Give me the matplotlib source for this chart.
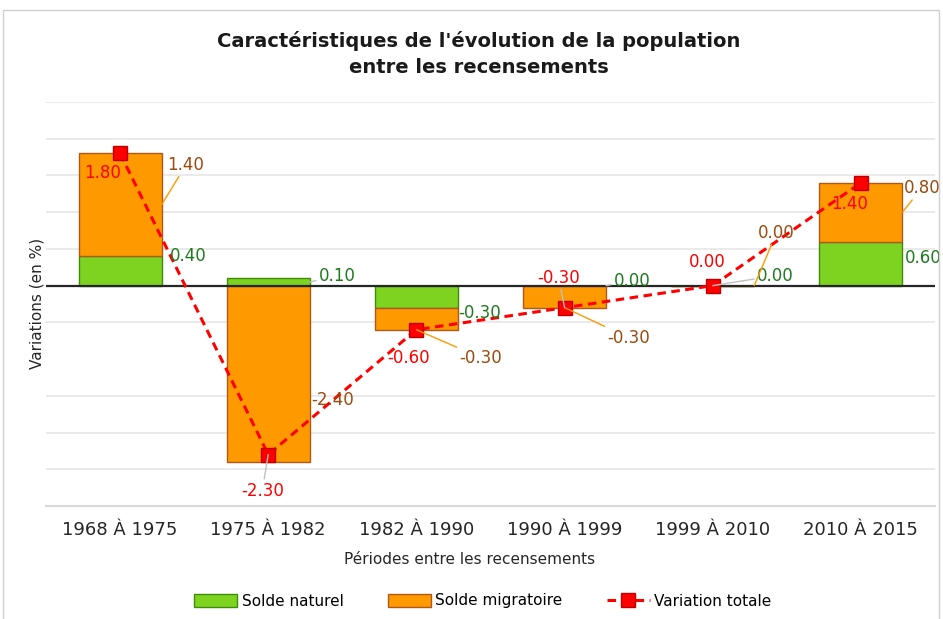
import matplotlib
matplotlib.use('Agg')
import matplotlib.pyplot as plt
from matplotlib.patches import Rectangle, Patch
from matplotlib.lines import Line2D
import numpy as np

# ---- data ----
periods = ['1968 À 1975', '1975 À 1982', '1982 À 1990', '1990 À 1999', '1999 À 2010', '2010 À 2015']
solde_naturel = [0.40, 0.10, -0.30, 0.00, 0.00, 0.60]
solde_migratoire = [1.40, -2.40, -0.30, -0.30, 0.00, 0.80]
variation_totale = [1.80, -2.30, -0.60, -0.30, 0.00, 1.40]

title = "Caractéristiques de l'évolution de la population\nentre les recensements"
xlabel = "Périodes entre les recensements"
ylabel = "Variations (en %)"
legend_labels = ['Solde naturel', 'Solde migratoire', 'Variation totale']

# ---- style ----
GREEN = '#7ED321'
GREEN_EDGE = '#3d8c0a'
ORANGE = '#FF9900'
ORANGE_EDGE = '#b0581a'
RED = '#FF0000'
GREEN_TXT = '#1f7a1f'
BROWN_TXT = '#9c4a0f'
GRAY = '#bfbfbf'

fig = plt.figure(figsize=(9.43, 6.19), dpi=100)
ax = fig.add_axes([46/943, 113/619, 889/943, 404/619])

x = np.arange(len(periods))
w = 0.56
nat = np.array(solde_naturel)
mig = np.array(solde_migratoire)
tot = np.array(variation_totale)
mig_bottom = np.where(np.sign(mig) == np.sign(nat), nat, 0.0)

ax.bar(x, nat, w, color=GREEN, edgecolor=GREEN_EDGE, linewidth=1, zorder=2)
ax.bar(x, mig, w, bottom=mig_bottom, color=ORANGE, edgecolor=ORANGE_EDGE, linewidth=1, zorder=2)
ax.axhline(0, color='#262626', lw=1.6, zorder=3)
ax.plot(x, tot, color=RED, ls=(0, (2.8, 1.8)), lw=2.2, marker='s', ms=10,
        mfc=RED, mec='#c00000', mew=1, zorder=5)

ax.set_xlim(-0.5, len(periods) - 0.5)
ax.set_ylim(-3, 2.5)
ax.set_yticks([-2.5, -2, -1.5, -0.5, 0, 0.5, 1, 1.5, 2, 2.5])
ax.yaxis.grid(True, color='#e6e6e6', lw=1.2, zorder=0)
ax.set_axisbelow(True)
ax.tick_params(axis='y', length=0, labelleft=False)
ax.set_xticks(x)
ax.set_xticklabels(periods, fontsize=13, color='#262626')
ax.tick_params(axis='x', length=0, pad=11)
for s in ['left', 'right', 'top']:
    ax.spines[s].set_visible(False)
ax.spines['bottom'].set_color('#d9d9d9')
ax.spines['bottom'].set_linewidth(1.5)

# ---- data labels ----
def label(xy, txt, off, color, ha='left', leader=None):
    kw = {}
    if leader:
        kw['arrowprops'] = dict(arrowstyle='-', color=leader, lw=1, shrinkA=0, shrinkB=0)
    ax.annotate(txt, xy=xy, xytext=off, textcoords='offset pixels', ha=ha, va='center',
                fontsize=12, color=color, zorder=6, **kw)

# green labels (solde naturel)
g_anchor = [(0 + w/2, 0.2), (1 + w/2, 0.05), (2 + w/2, -0.15), (3 + w/2, 0.0), (4, 0.0), (5 + w/2, 0.3)]
g_off = [(8, 15), (9, 6), (0, -16), (8, 5), (44, 10), (2, 6)]
g_lead = [None, GRAY, None, GRAY, GRAY, None]
for i in range(len(periods)):
    label(g_anchor[i], f'{solde_naturel[i]:.2f}', g_off[i], GREEN_TXT, leader=g_lead[i])

# orange labels (solde migratoire)
o_anchor = [(0 + w/2, 1.1), (1 + w/2, -1.2), (2, -0.6), (3, -0.3), (4 + w/2, 0.0), (5 + w/2, 1.0)]
o_off = [(6, 40), (2, -26), (43, -28), (43, -30), (4, 53), (1, 24)]
o_lead = [ORANGE, None, ORANGE, ORANGE, ORANGE, ORANGE]
for i in range(len(periods)):
    label(o_anchor[i], f'{solde_migratoire[i]:.2f}', o_off[i], BROWN_TXT, leader=o_lead[i])

# red labels (variation totale)
r_off = [(-18, -20), (-6, -36), (-8, -28), (-6, 30), (-6, 24), (-11, -21)]
r_lead = [None, GRAY, None, GRAY, None, None]
for i in range(len(periods)):
    label((x[i], variation_totale[i]), f'{variation_totale[i]:.2f}', r_off[i], RED,
          ha='center', leader=r_lead[i])

# ---- texts ----
fig.text(479/943, 1 - 54/619, title, ha='center', va='center', fontsize=14,
         fontweight='bold', color='#1a1a1a', linespacing=1.45)
fig.text(470/943, 1 - 560/619, xlabel, ha='center', va='center', fontsize=11, color='#262626')
fig.text(37/943, 1 - 303/619, ylabel, ha='center', va='center', rotation=90,
         fontsize=11, color='#262626')

handles = [Patch(facecolor=GREEN, edgecolor=GREEN_EDGE),
           Patch(facecolor=ORANGE, edgecolor=ORANGE_EDGE),
           Line2D([0], [0], color=RED, ls=(0, (2.8, 1.8)), lw=2.2, marker='s', ms=10,
                  mfc=RED, mec='#c00000')]
fig.legend(handles, legend_labels, loc='center', bbox_to_anchor=(483/943, 1 - 601/619),
           ncol=3, frameon=False, fontsize=11, handlelength=2.8, handleheight=0.9,
           handletextpad=0.3, columnspacing=2.9)

fig.patches.append(Rectangle((3/943, -0.01), 936/943, 609/619 + 0.01, transform=fig.transFigure,
                             fill=False, ec='#d0d0d0', lw=1))

fig.savefig('out.png', dpi=100)
